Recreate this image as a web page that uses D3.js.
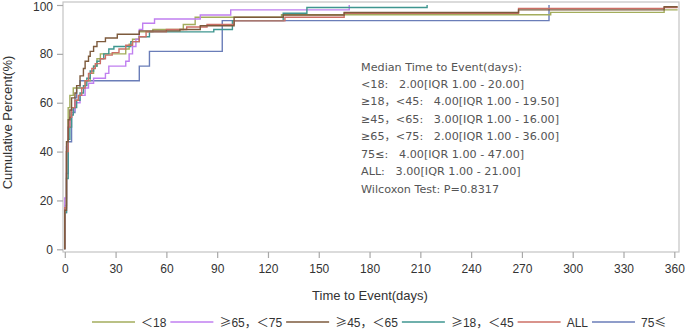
<!DOCTYPE html>
<html>
<head>
<meta charset="utf-8">
<script src="https://cdn.jsdelivr.net/npm/d3@7"></script>
<style>
  body { margin: 0; background: #fff; }
  svg { display: block; }
  text { font-family: "Liberation Sans", Arial, "Noto Sans CJK SC", sans-serif; }
</style>
</head>
<body>
<div id="chart"></div>
<script>
// step data: [day, cumulative percent from that day on]
var lt18 = [[0,0],[0,18],[1,40],[2,58],[3,63],[5,66],[12,69],[15,72],[17,75],[19,78],[21,80],[36,82],[38,84],[40,86],[44,89],[52,90],[70,92],[77,95],[128,96],[287,97],[354,98]];
var ge65lt75 = [[0,0],[0,21],[1,42],[2,50],[3,54],[4,57],[6,60],[9,63],[12,66],[14,68],[17,70],[24,72],[26,75],[36,77],[38,80],[40,83],[42,86],[44,90],[46,92.5],[53,94.3],[80,95.9],[98,98],[168,100]];
var ge45lt65 = [[0,0],[0,16],[1,44],[2,53],[3,57],[4,62],[6,64],[7,67],[9,71],[11,74],[12,77],[14,79],[15,81],[17,83],[19,85],[24,86.5],[31,88],[44,89.4],[68,90],[80,91.5],[100,95],[129,95.9],[165,96.9],[268,98],[354,99.3]];
var ge18lt45 = [[0,0],[0,15],[1,29],[2,45],[3,50],[4,55],[5,58],[7,61],[9,64],[11,67],[13,70],[15,73],[17,75],[19,77],[21,78],[23,80],[26,82],[29,83],[39,85],[44,87],[50,89],[88,90],[99,93.6],[129,96.6],[143,99],[214,100]];
var all = [[0,0],[0,17],[1,40],[2,50],[3,54],[4,58],[6,61],[8,63],[10,66],[12,69],[14,72],[16,74],[18,76],[21,78],[24,79.5],[28,80.5],[32,82],[36,83.5],[40,85],[44,87],[48,89],[60,90],[72,91],[84,92],[100,93.5],[130,95],[165,96.6],[268,98.6],[354,99]];
var ge75 = [[0,0],[0,15],[1,31],[2,44],[4,56],[6,62],[7,66],[9,69],[44,75],[50,81],[93,93.6],[286,100]];

var groupNames = ["＜18", "≥65，＜75", "≥45，＜65", "≥18，＜45", "ALL", "75≤"];
var groupData = [lt18, ge65lt75, ge45lt65, ge18lt45, all, ge75];
var groupEnd = [362, 168, 362, 214, 362, 286];
var groupColors = ["#a3ad5c", "#c07ff0", "#7d5a3c", "#3f9690", "#cc6f66", "#6a7db8"];

var xTicks = [0, 30, 60, 90, 120, 150, 180, 210, 240, 270, 300, 330, 360];
var yTicks = [0, 20, 40, 60, 80, 100];

var noteLines = [
  "Median Time to Event(days):",
  "<18:   2.00[IQR 1.00 - 20.00]",
  "≥18，<45:   4.00[IQR 1.00 - 19.50]",
  "≥45，<65:   3.00[IQR 1.00 - 16.00]",
  "≥65，<75:   2.00[IQR 1.00 - 36.00]",
  "75≤:   4.00[IQR 1.00 - 47.00]",
  "ALL:   3.00[IQR 1.00 - 21.00]",
  "Wilcoxon Test: P=0.8317"
];

var width = 685, height = 329;
var svg = d3.select("#chart").append("svg")
  .attr("width", width)
  .attr("height", height);

var x = d3.scaleLinear().domain([0, 360]).range([64.8, 674.3]);
var y = d3.scaleLinear().domain([0, 100]).range([249.3, 5]);

var frame = { left: 63, right: 679, top: 2, bottom: 252 };

// plot frame
svg.append("rect")
  .attr("x", frame.left)
  .attr("y", frame.top)
  .attr("width", frame.right - frame.left)
  .attr("height", frame.bottom - frame.top)
  .attr("fill", "none")
  .attr("stroke", "#c4c4c4")
  .attr("stroke-width", 1.2);

// axes
var xAxis = svg.append("g")
  .attr("transform", "translate(0," + frame.bottom + ")")
  .call(d3.axisBottom(x).tickValues(xTicks).tickSize(6).tickSizeOuter(0).tickPadding(6));
var yAxis = svg.append("g")
  .attr("transform", "translate(" + frame.left + ",0)")
  .call(d3.axisLeft(y).tickValues(yTicks).tickSize(6).tickSizeOuter(0).tickPadding(4));

[xAxis, yAxis].forEach(function(a) {
  a.select(".domain").remove();
  a.selectAll(".tick line").attr("stroke", "#a8a8a8").attr("stroke-width", 1.2);
  a.selectAll(".tick text")
    .attr("fill", "#333")
    .style("font-size", "12px")
    .style("font-family", "'Liberation Sans', Arial, sans-serif");
});
// keep the top label inside the picture
yAxis.selectAll(".tick text").filter(function(d) { return d === 100; }).attr("dy", "0.42em");

// curves
var line = d3.line()
  .x(function(d) { return x(d[0]); })
  .y(function(d) { return y(d[1]); })
  .curve(d3.curveStepAfter);

var order = [5, 0, 1, 3, 4, 2];
order.forEach(function(i) {
  var pts = groupData[i].slice();
  pts.push([groupEnd[i], pts[pts.length - 1][1]]);
  svg.append("path")
    .attr("d", line(pts))
    .attr("fill", "none")
    .attr("stroke", groupColors[i])
    .attr("stroke-width", 1.4);
});

// axis labels
svg.append("text")
  .attr("transform", "translate(11.5,122.5) rotate(-90)")
  .attr("text-anchor", "middle")
  .attr("fill", "#333")
  .style("font-size", "13px")
  .text("Cumulative Percent(%)");

svg.append("text")
  .attr("x", 370)
  .attr("y", 300)
  .attr("text-anchor", "middle")
  .attr("fill", "#333")
  .style("font-size", "13px")
  .text("Time to Event(days)");

// median note
svg.append("g").selectAll("text")
  .data(noteLines)
  .enter()
  .append("text")
  .attr("x", 361)
  .attr("y", function(d, i) { return 70.5 + i * 17.45; })
  .attr("fill", "#555")
  .attr("xml:space", "preserve")
  .style("white-space", "pre")
  .style("font-family", "'DejaVu Sans', 'Noto Sans CJK SC', sans-serif")
  .style("font-size", "11.2px")
  .text(function(d) { return d; });

// legend: symbols drawn in the CJK font so they come out full width
function runs(s) {
  var out = [], cur = "", wide = null;
  for (var ch of s) {
    var w = ch.charCodeAt(0) > 127;
    if (wide !== null && w !== wide) { out.push([cur, wide]); cur = ""; }
    cur += ch; wide = w;
  }
  if (cur) out.push([cur, wide]);
  return out;
}

var legend = svg.append("g");
var lx = 92, ly = 322;
groupNames.forEach(function(name, i) {
  legend.append("line")
    .attr("x1", lx).attr("x2", lx + 43)
    .attr("y1", ly).attr("y2", ly)
    .attr("stroke", groupColors[i])
    .attr("stroke-width", 1.6);
  var t = legend.append("text")
    .attr("x", lx + 49)
    .attr("y", ly + 4.5)
    .attr("fill", "#333")
    .style("font-size", "12px");
  runs(name).forEach(function(r) {
    t.append("tspan")
      .style("font-family", r[1] ? "'Noto Sans CJK SC', sans-serif" : "'Liberation Sans', Arial, sans-serif")
      .text(r[0]);
  });
  lx = lx + 49 + t.node().getComputedTextLength() + 4;
});
</script>
</body>
</html>
